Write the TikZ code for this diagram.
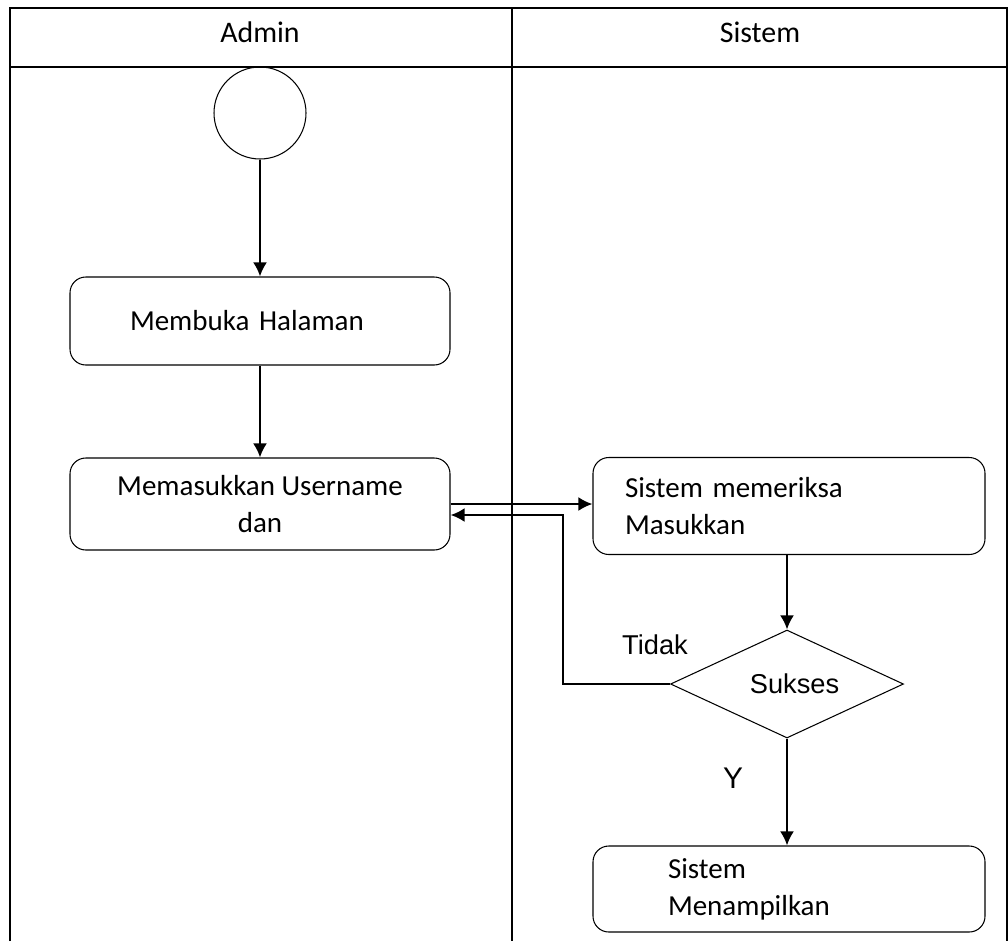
\documentclass[tikz,border=0pt]{standalone}
\usepackage{fontspec}
\setmainfont{Carlito}
\newfontfamily\arialfont{Liberation Sans}
\usetikzlibrary{arrows.meta,shapes.geometric}

\begin{document}
\begin{tikzpicture}
      \tikzset { lane/.style = { draw, line width=0.6pt } }
      \tikzset { act/.style = { shape=rectangle,draw,rounded corners=9pt,line width=0.6pt,font=\fontsize{16.5}{21}\selectfont } }
      \tikzset { decide/.style = { shape=diamond,draw,aspect=2.16,line width=0.6pt,inner sep=0pt,minimum width=4.66cm,minimum height=2.16cm,font=\arialfont\fontsize{15.5}{19}\selectfont } }
      \tikzset { edge/.style = { ->,> = {Latex[length=0.28cm,width=0.28cm]},line width=1.4pt } }

      \useasboundingbox (0,0) rectangle (20.16,-18.82);

      % swimlanes
      \draw[lane] (0.2,-18.82) -- (0.2,-0.16) -- (20.14,-0.16) -- (20.14,-18.82);
      \draw[lane] (0.2,-1.34) -- (20.14,-1.34);
      \draw[lane] (10.24,-0.16) -- (10.24,-18.82);
      \node[font=\fontsize{17}{21}\selectfont] (admin) at (5.2,-0.64) {Admin};
      \node[font=\fontsize{17}{21}\selectfont] (sistem) at (15.2,-0.64) {Sistem};

      \node[shape=circle,draw,line width=0.6pt,minimum size=1.84cm] (start) at (5.2,-2.26) {};
      \node[act,minimum width=7.6cm,minimum height=1.76cm,text width=5.2cm,inner xsep=1.2cm,align=left] (buka) at (5.2,-6.42) {Membuka Halaman};
      \node[act,minimum width=7.6cm,minimum height=1.84cm,align=center] (masuk) at (5.2,-10.08) {Memasukkan Username\\dan};
      \node[act,minimum width=7.84cm,minimum height=1.94cm,text width=6.56cm,inner xsep=0.64cm,align=left] (periksa) at (15.78,-10.12) {Sistem memeriksa\\Masukkan};
      \node[decide] (sukses) at (15.74,-13.68) {\hspace*{0.3cm}Sukses};
      \node[act,minimum width=7.84cm,minimum height=1.72cm,text width=4.84cm,inner xsep=1.5cm,align=left] (tampil) at (15.78,-17.78) {Sistem\\Menampilkan};

      \node[font=\arialfont\fontsize{15.5}{19}\selectfont] (tidak) at (13.1,-12.9) {Tidak};
      \node[font=\arialfont\fontsize{17}{21}\selectfont] (ya) at (14.66,-15.56) {Y};
      \coordinate (balik) at (11.26,-10.3);

      \draw[edge] (start) to (buka);
      \draw[edge] (buka) to (masuk);
      \draw[edge] (masuk.east) to (masuk.east -| periksa.west);
      \draw[edge] (sukses.west) -| (balik) -- (balik -| masuk.east);
      \draw[edge] (periksa.south -| sukses.north) to (sukses.north);
      \draw[edge] (sukses.south) to (sukses.south |- tampil.north);

    \end{tikzpicture}
\end{document}
